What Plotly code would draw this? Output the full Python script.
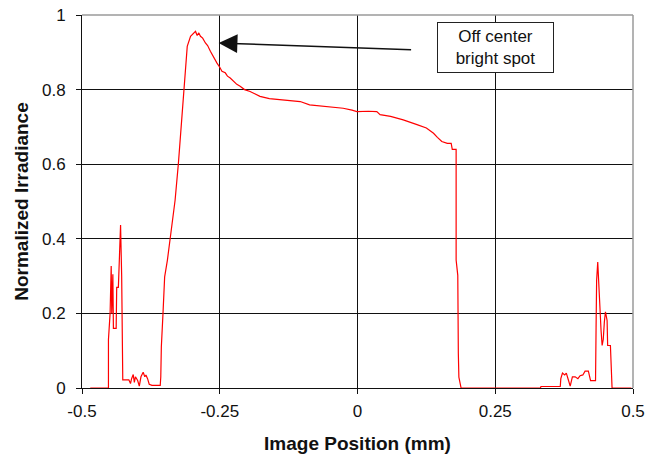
import plotly.graph_objects as go

# Measured irradiance profile across the image (position in mm, normalized irradiance)
position_mm = [
    -0.485, -0.452, -0.452, -0.449, -0.447, -0.446, -0.444, -0.443, -0.438, -0.437,
    -0.434, -0.432, -0.431, -0.430, -0.428, -0.427, -0.426, -0.415, -0.412, -0.410,
    -0.407, -0.405, -0.403, -0.399, -0.396, -0.393, -0.389, -0.386, -0.384, -0.381,
    -0.378, -0.373, -0.358, -0.357, -0.356, -0.353, -0.350, -0.345, -0.338, -0.335,
    -0.331, -0.325, -0.319, -0.316, -0.3125, -0.309, -0.303, -0.298, -0.294, -0.291,
    -0.288, -0.285, -0.281, -0.276, -0.272, -0.267, -0.262, -0.258, -0.255, -0.250,
    -0.246, -0.240, -0.236, -0.231, -0.225, -0.219, -0.213, -0.205, -0.195, -0.186,
    -0.177, -0.160, -0.135, -0.104, -0.087, -0.050, -0.026, -0.010, -0.001, 0.020,
    0.035, 0.041, 0.060, 0.083, 0.095, 0.108, 0.125, 0.138, 0.145, 0.153,
    0.163, 0.170, 0.172, 0.179, 0.179, 0.182, 0.183, 0.184, 0.188, 0.332,
    0.333, 0.368, 0.369, 0.372, 0.376, 0.379, 0.383, 0.386, 0.390, 0.395,
    0.400, 0.404, 0.409, 0.413, 0.419, 0.423, 0.426, 0.432, 0.433, 0.434,
    0.436, 0.438, 0.440, 0.442, 0.444, 0.446, 0.448, 0.450, 0.453, 0.454,
    0.456, 0.459, 0.462, 0.497,
]
irradiance = [
    0.0, 0.0, 0.13, 0.20, 0.327, 0.20, 0.305, 0.16, 0.16, 0.27,
    0.27, 0.365, 0.35, 0.437, 0.30, 0.187, 0.022, 0.022, 0.012, 0.025,
    0.036, 0.015, 0.030, 0.020, 0.005, 0.030, 0.042, 0.030, 0.035, 0.025,
    0.010, 0.007, 0.007, 0.030, 0.110, 0.200, 0.298, 0.343, 0.423, 0.459,
    0.504, 0.603, 0.719, 0.800, 0.853, 0.916, 0.943, 0.950, 0.956, 0.945,
    0.952, 0.943, 0.938, 0.925, 0.918, 0.903, 0.888, 0.880, 0.871, 0.860,
    0.849, 0.845, 0.836, 0.831, 0.822, 0.814, 0.809, 0.800, 0.795, 0.788,
    0.782, 0.776, 0.773, 0.768, 0.759, 0.754, 0.750, 0.745, 0.741, 0.742,
    0.741, 0.733, 0.728, 0.719, 0.712, 0.706, 0.697, 0.683, 0.672, 0.661,
    0.656, 0.656, 0.640, 0.640, 0.343, 0.302, 0.093, 0.029, 0.0, 0.0,
    0.004, 0.004, 0.025, 0.040, 0.035, 0.040, 0.020, 0.005, 0.030, 0.030,
    0.025, 0.033, 0.035, 0.045, 0.045, 0.020, 0.020, 0.020, 0.163, 0.289,
    0.338, 0.262, 0.200, 0.155, 0.114, 0.130, 0.177, 0.204, 0.181, 0.114,
    0.114, 0.114, 0.0, 0.0,
]

x_ticks = [-0.5, -0.25, 0, 0.25, 0.5]
x_tick_labels = ["-0.5", "-0.25", "0", "0.25", "0.5"]

font_family = "Liberation Sans, Arial, sans-serif"

fig = go.Figure()
fig.add_trace(go.Scatter(
    x=position_mm, y=irradiance, mode="lines",
    line=dict(color="#ff0000", width=1.2),
    cliponaxis=False, hoverinfo="skip", showlegend=False,
))

fig.update_layout(
    width=645, height=461,
    margin=dict(l=82, r=12, t=15, b=73),
    paper_bgcolor="white", plot_bgcolor="white",
    font=dict(family=font_family, color="#111", size=17),
    xaxis=dict(
        range=[-0.5, 0.5], tickvals=x_ticks, ticktext=x_tick_labels,
        showgrid=True, gridcolor="#111", gridwidth=1,
        showline=True, linecolor="#111", linewidth=1,
        ticks="outside", ticklen=5, tickcolor="#111", ticklabelstandoff=3,
        zeroline=False, layer="below traces", automargin=False,
        title=dict(text="<b>Image Position (mm)</b>", font=dict(size=19), standoff=16),
    ),
    yaxis=dict(
        range=[0, 1], dtick=0.2, tick0=0,
        showgrid=True, gridcolor="#111", gridwidth=1,
        showline=True, linecolor="#111", linewidth=1,
        ticks="outside", ticklen=5, tickcolor="#111", ticklabelstandoff=7,
        zeroline=False, layer="below traces", automargin=False,
        title=dict(text="<b>Normalized Irradiance</b>", font=dict(size=19), standoff=8),
    ),
    shapes=[
        # grey frame along the top and right edges of the plot area
        dict(type="line", xref="paper", yref="paper", x0=0, x1=1, y0=1, y1=1,
             line=dict(color="#9a9a9a", width=1.5), layer="above"),
        dict(type="line", xref="paper", yref="paper", x0=1, x1=1, y0=0, y1=1,
             line=dict(color="#9a9a9a", width=1.5), layer="above"),
    ],
    annotations=[
        # arrow pointing at the bright spot
        dict(x=-0.252, y=0.925, ax=0.1, ay=0.907, xref="x", yref="y",
             axref="x", ayref="y", text="", showarrow=True,
             arrowhead=2, arrowsize=2.5, arrowwidth=1.5, arrowcolor="#111"),
        dict(x=0.251, y=0.914, xref="x", yref="y", text="Off center<br>bright spot",
             showarrow=False, bgcolor="white", bordercolor="#222", borderwidth=1,
             width=113, height=47, font=dict(size=17, color="#111")),
    ],
)

fig.write_html("out.html")
